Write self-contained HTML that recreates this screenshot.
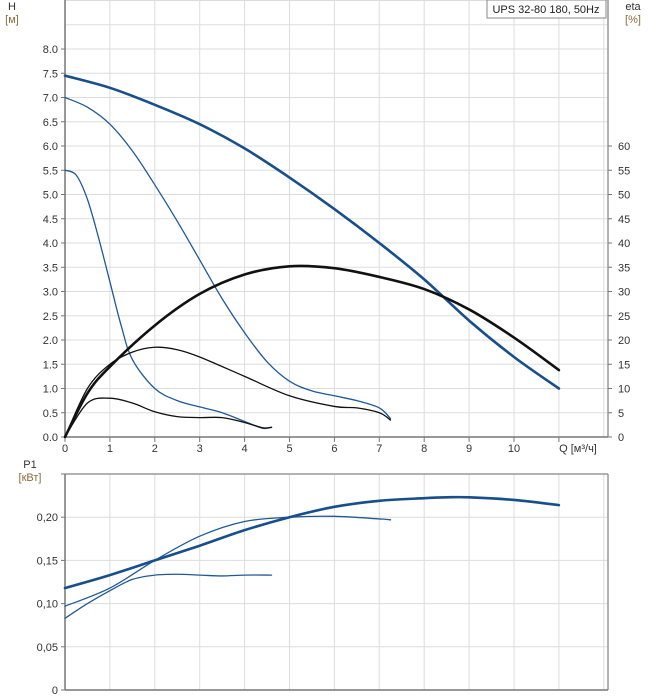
<!DOCTYPE html>
<html><head><meta charset="utf-8"><style>
body{margin:0;background:#fff;width:658px;height:700px;overflow:hidden}
svg{display:block;font-family:"Liberation Sans",sans-serif}
</style></head><body>
<svg id="c" width="658" height="700"></svg>
<script>
const qTicks=[0,1,2,3,4,5,6,7,8,9,10];
const hTicks=[0,0.5,1,1.5,2,2.5,3,3.5,4,4.5,5,5.5,6,6.5,7,7.5,8];
const etaTicks=[0,5,10,15,20,25,30,35,40,45,50,55,60];
const pTicks=[0,0.05,0.10,0.15,0.20];
const hSpeed3Q=[0,1,2,3,4,5,6,7,8,9,10,11];
const hSpeed3=[7.45,7.2,6.85,6.45,5.95,5.35,4.7,4.0,3.25,2.4,1.65,1.0];
const hSpeed2Q=[0,0.5,1,1.5,2,2.5,3,3.5,4,4.5,5,5.5,6,6.5,7,7.25];
const hSpeed2=[7.0,6.8,6.45,5.9,5.2,4.45,3.65,2.85,2.15,1.55,1.15,0.95,0.85,0.75,0.6,0.38];
const hSpeed1Q=[0,0.25,0.5,0.75,1,1.25,1.5,2,2.5,3,3.5,4,4.4,4.6];
const hSpeed1=[5.5,5.4,4.9,4.1,3.2,2.3,1.6,1.0,0.75,0.62,0.5,0.32,0.18,0.2];
const eta3Q=[0,0.5,1,2,3,4,5,6,7,8,9,10,11];
const eta3=[0,9,14.5,23,29.5,33.5,35.2,34.8,33,30.5,26.3,20.5,13.8];
const eta2Q=[0,0.5,1,1.5,2,2.5,3,4,5,6,6.5,7,7.25];
const eta2=[0,10,15,17.5,18.5,18,16.5,12.5,8.5,6.3,6,5,3.5];
const eta1Q=[0,0.5,1,1.5,2,2.5,3,3.5,4,4.4,4.6];
const eta1=[0,7,8,7,5.2,4.2,4,4,3,1.9,2];
const p3Q=[0,1,2,3,4,5,6,7,8,8.5,9,10,11];
const p3=[0.118,0.133,0.150,0.167,0.185,0.200,0.212,0.219,0.222,0.223,0.223,0.220,0.214];
const p2Q=[0,1,2,3,4,5,6,7,7.25];
const p2=[0.097,0.118,0.150,0.178,0.195,0.200,0.201,0.198,0.197];
const p1Q=[0,0.5,1,1.5,2,2.5,3,3.5,4,4.6];
const p1=[0.083,0.100,0.115,0.128,0.133,0.134,0.133,0.132,0.133,0.133];

const NS="http://www.w3.org/2000/svg",svg=document.getElementById('c');
const X0=65,XS=44.9,PR=608;
const x=q=>X0+q*XS;
const yH=h=>437-h*48.5;
const yE=e=>yH(e/10);
const yP=p=>690-p*864;
function el(t,a,parent){const e=document.createElementNS(NS,t);for(const k in a)e.setAttribute(k,a[k]);(parent||svg).appendChild(e);return e;}
function txt(s,xx,yy,anchor,color,size){const t=el('text',{x:xx,y:yy,'text-anchor':anchor||'start','font-size':size||11,fill:color||'#333'});t.textContent=s;return t;}
function smooth(pts){let d='M'+pts[0][0]+','+pts[0][1];for(let i=0;i<pts.length-1;i++){const p0=pts[i-1]||pts[i],p1=pts[i],p2=pts[i+1],p3=pts[i+2]||p2;d+=' C'+(p1[0]+(p2[0]-p0[0])/6)+','+(p1[1]+(p2[1]-p0[1])/6)+' '+(p2[0]-(p3[0]-p1[0])/6)+','+(p2[1]-(p3[1]-p1[1])/6)+' '+p2[0]+','+p2[1];}return d;}
function curve(qs,vs,yf,color,w,name){const p=el('path',{d:smooth(qs.map((q,i)=>[x(q),yf(vs[i])])),fill:'none',stroke:color,'stroke-width':w,'stroke-linecap':'round'});

}

const gt=el('g',{});


for(let q=1;q<=12;q++)el('line',{x1:x(q),x2:x(q),y1:0,y2:437,stroke:'#ddd'},gt);
for(let h=0.5;h<=9;h+=0.5)el('line',{x1:X0,x2:PR,y1:yH(h),y2:yH(h),stroke:'#ddd'},gt);
el('line',{x1:X0,x2:X0,y1:0,y2:437,stroke:'#777','stroke-width':1.5});
el('line',{x1:PR,x2:PR,y1:0,y2:437,stroke:'#999','stroke-width':1.5});
el('line',{x1:X0,x2:PR,y1:437,y2:437,stroke:'#777','stroke-width':1.5});
hTicks.forEach(h=>{el('line',{x1:X0-4,x2:X0,y1:yH(h),y2:yH(h),stroke:'#777'});const t=txt(h.toFixed(1),X0-7,yH(h)+4,'end');

});
etaTicks.forEach(e=>{el('line',{x1:PR,x2:PR+4,y1:yE(e),y2:yE(e),stroke:'#777'});const t=txt(String(e),PR+10,yE(e)+4);

});
qTicks.forEach(q=>{el('line',{x1:x(q),x2:x(q),y1:437,y2:442,stroke:'#777'});const t=txt(String(q),x(q),452,'middle');

});
el('line',{x1:x(11),x2:x(11),y1:437,y2:442,stroke:'#777'});
let t=txt('Q [м³/ч]',578,452,'middle');
t=txt('H',12,10,'middle','#333');
t=txt('[м]',12,23,'middle','#8a6d3b');
t=txt('eta',633,10,'middle','#333');
t=txt('[%]',633,23,'middle','#8a6d3b');
const lb=el('rect',{x:487,y:0,width:119,height:18,fill:'#fff',stroke:'#888'});

t=txt('UPS 32-80 180, 50Hz',546,13,'middle','#222');

curve(hSpeed1Q,hSpeed1,yH,'#1f5a96',1.3,'head-speed1');
curve(hSpeed2Q,hSpeed2,yH,'#1f5a96',1.3,'head-speed2');
curve(hSpeed3Q,hSpeed3,yH,'#174e8c',2.6,'head-speed3');
curve(eta1Q,eta1,yE,'#111',1.3,'eta-speed1');
curve(eta2Q,eta2,yE,'#111',1.3,'eta-speed2');
curve(eta3Q,eta3,yE,'#111',2.6,'eta-speed3');

const gb=el('g',{});


for(let q=1;q<=12;q++)el('line',{x1:x(q),x2:x(q),y1:474,y2:690,stroke:'#ddd'},gb);
for(let p=0.05;p<=0.26;p+=0.05)el('line',{x1:X0,x2:PR,y1:yP(p),y2:yP(p),stroke:'#ddd'},gb);
el('line',{x1:X0,x2:PR,y1:474,y2:474,stroke:'#999','stroke-width':1.5});
el('line',{x1:X0,x2:X0,y1:474,y2:690,stroke:'#777','stroke-width':1.5});
el('line',{x1:PR,x2:PR,y1:474,y2:690,stroke:'#999','stroke-width':1.5});
el('line',{x1:X0,x2:PR,y1:690,y2:690,stroke:'#777','stroke-width':1.5});
el('line',{x1:X0-4,x2:X0,y1:yP(0.25),y2:yP(0.25),stroke:'#777'});
pTicks.forEach(p=>{el('line',{x1:X0-4,x2:X0,y1:yP(p),y2:yP(p),stroke:'#777'});const t=txt(p===0?'0':p.toFixed(2).replace('.',','),X0-7,yP(p)+4,'end');

});
t=txt('P1',30,468,'middle','#333');
t=txt('[кВт]',30,481,'middle','#8a6d3b');
curve(p1Q,p1,yP,'#1f5a96',1.3,'power-speed1');
curve(p2Q,p2,yP,'#1f5a96',1.3,'power-speed2');
curve(p3Q,p3,yP,'#174e8c',2.6,'power-speed3');
</script>
</body></html>
